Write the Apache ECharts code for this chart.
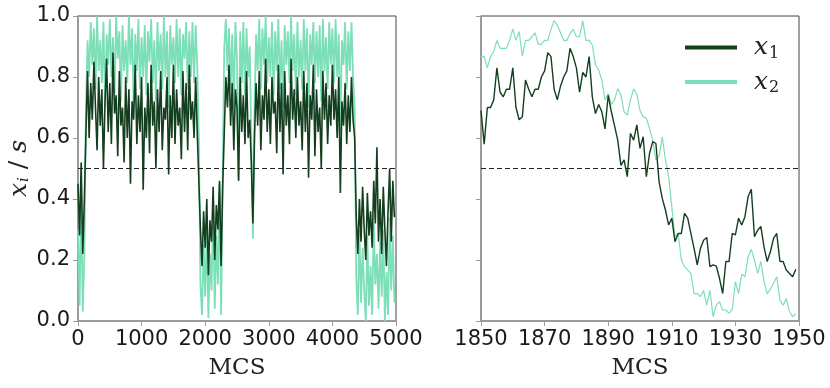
<!DOCTYPE html>
<html>
<head>
<meta charset="utf-8">
<script src="https://cdn.jsdelivr.net/npm/echarts@6/dist/echarts.min.js"></script>
<style>
  html, body { margin: 0; padding: 0; background: #fff; }
  #chart { width: 830px; height: 388px; }
</style>
</head>
<body>
<div id="chart"></div>
<script>
// left panel: whole run, one sample every 25 MCS
var leftStep = 25;
var leftX1 = [
  0.45, 0.28, 0.52, 0.22, 0.40, 0.62, 0.82, 0.60, 0.78, 0.66,
  0.85, 0.70, 0.56, 0.80, 0.64, 0.76, 0.50, 0.72, 0.86, 0.62,
  0.78, 0.58, 0.88, 0.68, 0.74, 0.54, 0.82, 0.64, 0.70, 0.52,
  0.80, 0.60, 0.76, 0.45, 0.72, 0.66, 0.84, 0.58, 0.74, 0.62,
  0.80, 0.43, 0.70, 0.60, 0.78, 0.55, 0.84, 0.64, 0.72, 0.50,
  0.76, 0.62, 0.82, 0.56, 0.70, 0.66, 0.80, 0.48, 0.74, 0.60,
  0.84, 0.58, 0.76, 0.64, 0.70, 0.53, 0.82, 0.62, 0.78, 0.56,
  0.84, 0.66, 0.72, 0.60, 0.80, 0.62, 0.46, 0.30, 0.18, 0.36,
  0.24, 0.40, 0.15, 0.33, 0.26, 0.44, 0.20, 0.38, 0.30, 0.46,
  0.18, 0.44, 0.62, 0.80, 0.70, 0.84, 0.64, 0.78, 0.56, 0.76,
  0.70, 0.46, 0.80, 0.62, 0.74, 0.58, 0.82, 0.60, 0.66, 0.52,
  0.32, 0.60, 0.78, 0.64, 0.82, 0.56, 0.74, 0.66, 0.86, 0.62,
  0.76, 0.58, 0.80, 0.68, 0.72, 0.55, 0.84, 0.62, 0.78, 0.48,
  0.82, 0.64, 0.74, 0.58, 0.86, 0.66, 0.76, 0.60, 0.80, 0.64,
  0.72, 0.56, 0.82, 0.62, 0.78, 0.47, 0.74, 0.66, 0.84, 0.54,
  0.76, 0.62, 0.70, 0.50, 0.82, 0.66, 0.78, 0.58, 0.74, 0.64,
  0.84, 0.66, 0.76, 0.60, 0.80, 0.42, 0.72, 0.64, 0.78, 0.58,
  0.74, 0.62, 0.80, 0.66, 0.60, 0.34, 0.22, 0.40, 0.26, 0.44,
  0.30, 0.20, 0.42, 0.28, 0.36, 0.24, 0.46, 0.32, 0.57, 0.26,
  0.40, 0.22, 0.44, 0.30, 0.18, 0.36, 0.50, 0.26, 0.46, 0.34
];
var leftX2 = [
  0.30, 0.05, 0.42, 0.03, 0.22, 0.70, 0.92, 0.80, 0.98, 0.84,
  0.96, 0.76, 1.00, 0.82, 0.92, 0.78, 0.98, 0.70, 0.94, 0.84,
  0.99, 0.80, 0.93, 0.74, 1.00, 0.86, 0.95, 0.72, 0.97, 0.82,
  0.92, 0.78, 1.00, 0.84, 0.96, 0.70, 0.94, 0.82, 0.99, 0.76,
  0.93, 0.80, 0.97, 0.74, 0.95, 0.85, 0.99, 0.78, 0.92, 0.72,
  0.98, 0.82, 0.94, 0.76, 1.00, 0.80, 0.95, 0.70, 0.97, 0.84,
  0.93, 0.78, 0.99, 0.80, 0.96, 0.74, 0.94, 0.86, 0.98, 0.76,
  0.95, 0.80, 0.98, 0.78, 0.97, 0.84, 0.60, 0.12, 0.02, 0.25,
  0.08, 0.30, 0.01, 0.22, 0.10, 0.40, 0.04, 0.28, 0.12, 0.45,
  0.02, 0.48, 0.90, 0.99, 0.82, 0.96, 0.76, 0.94, 0.70, 0.98,
  0.86, 0.46, 0.95, 0.78, 0.98, 0.74, 0.96, 0.80, 0.90, 0.60,
  0.27, 0.70, 0.94, 0.82, 0.99, 0.76, 0.96, 0.84, 1.00, 0.78,
  0.93, 0.80, 0.98, 0.74, 0.95, 0.82, 0.99, 0.76, 0.92, 0.70,
  0.97, 0.84, 0.95, 0.78, 1.00, 0.82, 0.94, 0.74, 0.98, 0.80,
  0.92, 0.76, 0.99, 0.82, 0.96, 0.70, 0.94, 0.84, 0.98, 0.78,
  0.95, 0.80, 0.97, 0.72, 0.99, 0.82, 0.93, 0.76, 0.98, 0.84,
  0.96, 0.78, 0.99, 0.80, 0.94, 0.62, 0.92, 0.84, 0.98, 0.76,
  0.95, 0.82, 0.98, 0.80, 0.70, 0.14, 0.02, 0.30, 0.06, 0.24,
  0.10, 0.00, 0.28, 0.05, 0.18, 0.02, 0.32, 0.12, 0.22, 0.04,
  0.26, 0.08, 0.30, 0.00, 0.16, 0.02, 0.34, 0.10, 0.28, 0.06
];

// right panel: zoom on the switch, MCS 1850..1949
var rightStart = 1850;
var rightX1 = [
  0.69, 0.58, 0.70, 0.70, 0.725, 0.83, 0.75, 0.735, 0.76, 0.76,
  0.83, 0.70, 0.66, 0.67, 0.79, 0.76, 0.735, 0.76, 0.76, 0.80,
  0.82, 0.88, 0.867, 0.76, 0.725, 0.77, 0.80, 0.82, 0.894, 0.867,
  0.83, 0.75, 0.815, 0.80, 0.867, 0.735, 0.68, 0.71, 0.686, 0.63,
  0.74, 0.686, 0.64, 0.593, 0.51, 0.528, 0.473, 0.615, 0.593, 0.643,
  0.566, 0.604, 0.473, 0.55, 0.588, 0.582, 0.457, 0.402, 0.364, 0.315,
  0.337, 0.26, 0.287, 0.287, 0.353, 0.337, 0.287, 0.238, 0.184, 0.238,
  0.265, 0.274, 0.178, 0.184, 0.18, 0.14, 0.09, 0.195, 0.195, 0.287,
  0.282, 0.337, 0.315, 0.342, 0.408, 0.432, 0.276, 0.298, 0.31, 0.243,
  0.195, 0.227, 0.271, 0.287, 0.195, 0.195, 0.167, 0.156, 0.145, 0.17
];
var rightX2 = [
  0.867, 0.867, 0.83, 0.867, 0.883, 0.92, 0.894, 0.894, 0.894, 0.92,
  0.957, 0.92, 0.949, 0.869, 0.92, 0.92, 0.932, 0.945, 0.907, 0.907,
  0.92, 0.92, 0.956, 0.985, 0.97, 0.945, 0.92, 0.92, 0.943, 0.957,
  0.932, 0.932, 0.985, 0.92, 0.92, 0.905, 0.84, 0.823, 0.79, 0.725,
  0.745, 0.71, 0.725, 0.762, 0.74, 0.686, 0.675, 0.725, 0.76, 0.745,
  0.69, 0.67, 0.665, 0.632, 0.593, 0.528, 0.54, 0.604, 0.528, 0.473,
  0.375, 0.276, 0.287, 0.20, 0.178, 0.167, 0.156, 0.09, 0.09, 0.08,
  0.10, 0.052, 0.10, 0.014, 0.052, 0.063, 0.036, 0.036, 0.025, 0.038,
  0.129, 0.09, 0.154, 0.145, 0.21, 0.235, 0.20, 0.156, 0.195, 0.129,
  0.09, 0.104, 0.124, 0.145, 0.069, 0.052, 0.074, 0.031, 0.014, 0.025
];

var threshold = 0.5;

var dark = "#143f1f";
var light = "#7ddfb8";

function pairs(vals, x0, dx) {
  return vals.map(function (v, i) { return [x0 + i * dx, v]; });
}

var chart = echarts.init(document.getElementById("chart"));

var tickFont = { fontSize: 21, color: "#1a1a1a", fontFamily: "DejaVu Sans" };
var serifName = { fontSize: 23, color: "#222", fontFamily: "DejaVu Serif" };

function xAxisOf(idx, min, max, interval) {
  return {
    type: "value", gridIndex: idx, min: min, max: max, interval: interval,
    name: "MCS", nameLocation: "middle", nameGap: 36, nameTextStyle: serifName,
    axisLine: { show: true, lineStyle: { color: "#999", width: 1.5 } },
    axisTick: { show: true, length: 5, lineStyle: { color: "#999" } },
    axisLabel: Object.assign({ margin: 8, formatter: function (v) { return String(v); } }, tickFont),
    splitLine: { show: false }
  };
}
function yAxisOf(idx, labels) {
  var ax = {
    type: "value", gridIndex: idx, min: 0, max: 1, interval: 0.2,
    axisLine: { show: true, lineStyle: { color: "#999", width: 1.5 } },
    axisTick: { show: true, length: 5, lineStyle: { color: "#999" } },
    axisLabel: Object.assign({ show: labels, margin: 8,
      formatter: function (v) { return v.toFixed(1); } }, tickFont),
    splitLine: { show: false }
  };
  if (labels) {
    ax.name = "{x|x}{s|i}{t| / }{x|s}";
    ax.nameLocation = "middle";
    ax.nameGap = 46;
    ax.nameRotate = 90;
    ax.nameTextStyle = {
      rich: {
        x: { fontSize: 25, fontStyle: "italic", fontFamily: "DejaVu Serif", color: "#222" },
        s: { fontSize: 15, fontStyle: "italic", fontFamily: "DejaVu Serif", color: "#222", padding: [10, 0, 0, 1] },
        t: { fontSize: 25, fontFamily: "DejaVu Serif", color: "#222" }
      }
    };
  }
  return ax;
}

var dashed = {
  silent: true, symbol: "none", label: { show: false },
  lineStyle: { color: "#222", type: [5, 3], width: 1.2 },
  data: [{ yAxis: threshold }]
};

chart.setOption({
  animation: false,
  backgroundColor: "#fff",
  grid: [
    { left: 78, width: 318, top: 16, height: 305, show: true, borderColor: "#444", borderWidth: 1 },
    { left: 481, width: 318, top: 16, height: 305, show: true, borderColor: "#444", borderWidth: 1 }
  ],
  xAxis: [xAxisOf(0, 0, 5000, 1000), xAxisOf(1, 1850, 1950, 20)],
  yAxis: [yAxisOf(0, true), yAxisOf(1, false)],
  legend: {
    data: ["x1", "x2"],
    orient: "vertical", left: 680, top: 30,
    icon: "rect", itemWidth: 52, itemHeight: 4, itemGap: 8,
    formatter: function (n) { return "{x|x}{s|" + n.slice(1) + "}"; },
    textStyle: {
      rich: {
        x: { fontSize: 25, fontStyle: "italic", fontFamily: "DejaVu Serif", color: "#222", padding: [0, 0, 0, 12] },
        s: { fontSize: 16, fontFamily: "DejaVu Serif", color: "#222", padding: [12, 0, 0, 1] }
      }
    }
  },
  series: [
    { name: "x2", type: "line", xAxisIndex: 0, yAxisIndex: 0, showSymbol: false,
      data: pairs(leftX2, 0, leftStep), lineStyle: { color: light, width: 1.8 }, itemStyle: { color: light } },
    { name: "x1", type: "line", xAxisIndex: 0, yAxisIndex: 0, showSymbol: false,
      data: pairs(leftX1, 0, leftStep), lineStyle: { color: dark, width: 1.6 }, itemStyle: { color: dark },
      markLine: dashed },
    { name: "x2", type: "line", xAxisIndex: 1, yAxisIndex: 1, showSymbol: false,
      data: pairs(rightX2, rightStart, 1), lineStyle: { color: light, width: 1.2 }, itemStyle: { color: light } },
    { name: "x1", type: "line", xAxisIndex: 1, yAxisIndex: 1, showSymbol: false,
      data: pairs(rightX1, rightStart, 1), lineStyle: { color: dark, width: 1.4 }, itemStyle: { color: dark },
      markLine: dashed }
  ]
});
</script>
</body>
</html>
